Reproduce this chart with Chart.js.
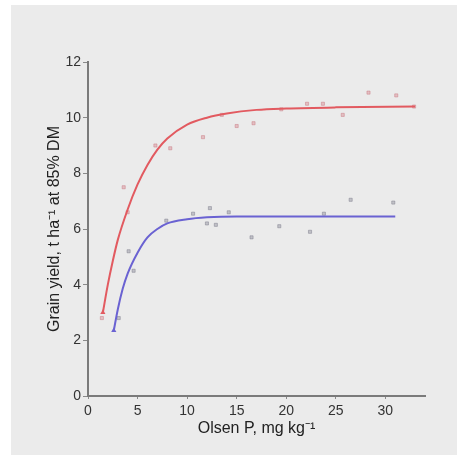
<!DOCTYPE html>
<html>
<head>
<meta charset="utf-8">
<script src="https://cdn.jsdelivr.net/npm/chart.js@4"></script>
<style>
  html, body { margin: 0; padding: 0; background: #ffffff; }
  #wrap { width: 468px; height: 460px; }
</style>
</head>
<body>
<div id="wrap"><canvas id="yield-chart" width="468" height="460"></canvas></div>
<script>
// observed points, high-P treatment (red) and low-P treatment (blue)
var redX = [1.4, 3.6, 4.0, 6.8, 8.3, 11.6, 13.5, 15.0, 16.7, 19.5, 22.1, 23.7, 25.7, 28.3, 31.1, 32.9];
var redY = [2.8, 7.5, 6.6, 9.0, 8.9, 9.3, 10.1, 9.7, 9.8, 10.3, 10.5, 10.5, 10.1, 10.9, 10.8, 10.4];
var blueX = [3.1, 4.1, 4.6, 7.9, 10.6, 12.3, 12.0, 12.9, 14.2, 16.5, 19.3, 22.4, 23.8, 26.5, 30.8];
var blueY = [2.8, 5.2, 4.5, 6.3, 6.55, 6.75, 6.2, 6.15, 6.6, 5.7, 6.1, 5.9, 6.55, 7.05, 6.95];

// fitted response curves
var redFitX = [1.5, 2, 2.5, 3, 4, 5, 6, 7, 8, 10, 12, 14, 17, 20, 25, 33];
var redFitY = [3.0, 4.0, 4.85, 5.6, 6.7, 7.6, 8.3, 8.85, 9.25, 9.75, 10.0, 10.15, 10.28, 10.33, 10.37, 10.4];
var blueFitX = [2.6, 3, 3.5, 4, 5, 6, 7, 8, 10, 12, 15, 20, 31];
var blueFitY = [2.35, 3.1, 3.85, 4.4, 5.15, 5.7, 6.0, 6.2, 6.35, 6.42, 6.45, 6.45, 6.45];

var xTicks = [0, 5, 10, 15, 20, 25, 30];
var yTicks = [0, 2, 4, 6, 8, 10, 12];
var xTitle = 'Olsen P, mg kg\u207B\u00B9';
var yTitle = 'Grain yield, t ha\u207B\u00B9 at 85% DM';

function toPoints(xs, ys) {
    var pts = [];
    for (let i = 0; i < xs.length; i++) {
        pts.push({ x: xs[i], y: ys[i] });
    }
    return pts;
};

// light grey panel behind the plot
const panel = {
    id: 'panel',
    beforeDraw(chart) {
        const c = chart.ctx;
        c.save();
        c.fillStyle = '#ebebeb';
        c.fillRect(11, 5, 446, 450);
        c.restore();
    }
};

const axisFont = { family: 'Liberation Sans, Arial, sans-serif', size: 14 };
const titleFont = { family: 'Liberation Sans, Arial, sans-serif', size: 16 };

new Chart(document.getElementById('yield-chart'), {
    type: 'scatter',
    data: {
        datasets: [
            {
                data: toPoints(redFitX, redFitY),
                showLine: true,
                borderColor: '#e25a60',
                borderWidth: 2,
                cubicInterpolationMode: 'monotone',
                pointRadius: redFitX.map((v, i) => i === 0 ? 3 : 0),
                pointStyle: 'triangle',
                pointBackgroundColor: '#e25a60',
                pointBorderWidth: 0
            },
            {
                data: toPoints(blueFitX, blueFitY),
                showLine: true,
                borderColor: '#6a62d2',
                borderWidth: 2,
                cubicInterpolationMode: 'monotone',
                pointRadius: blueFitX.map((v, i) => i === 0 ? 3 : 0),
                pointStyle: 'triangle',
                pointBackgroundColor: '#6a62d2',
                pointBorderWidth: 0
            },
            {
                data: toPoints(redX, redY),
                pointStyle: 'rect',
                pointRadius: 2.2,
                pointBackgroundColor: 'rgba(215,125,135,0.4)',
                pointBorderColor: 'rgba(200,115,125,0.45)',
                pointBorderWidth: 1
            },
            {
                data: toPoints(blueX, blueY),
                pointStyle: 'rect',
                pointRadius: 2.2,
                pointBackgroundColor: 'rgba(130,130,145,0.4)',
                pointBorderColor: 'rgba(120,120,135,0.45)',
                pointBorderWidth: 1
            }
        ]
    },
    options: {
        responsive: false,
        animation: false,
        layout: { padding: { left: 0, top: 62, right: 43, bottom: 0 } },
        scales: {
            x: {
                type: 'linear',
                min: 0,
                max: 34,
                afterBuildTicks: s => { s.ticks = xTicks.map(v => ({ value: v })); },
                afterFit: s => { s.height = 64; },
                grid: { drawOnChartArea: false, tickLength: 3, color: '#8a8a8a' },
                border: { color: '#7a7a7a', width: 2 },
                ticks: { color: '#333333', font: axisFont, padding: 4, maxRotation: 0 },
                title: { display: true, text: xTitle, color: '#222222', font: titleFont, padding: { top: 0, bottom: 22 } }
            },
            y: {
                type: 'linear',
                min: 0,
                max: 12,
                afterBuildTicks: s => { s.ticks = yTicks.map(v => ({ value: v })); },
                afterFit: s => { s.width = 88; },
                grid: { drawOnChartArea: false, tickLength: 5, color: '#8a8a8a' },
                border: { color: '#7a7a7a', width: 2 },
                ticks: { color: '#333333', font: axisFont, padding: 2 },
                title: { display: true, text: yTitle, color: '#222222', font: titleFont, padding: { top: 45, bottom: 0 } }
            }
        },
        plugins: {
            legend: { display: false },
            tooltip: { enabled: false }
        }
    },
    plugins: [panel]
});
</script>
</body>
</html>
